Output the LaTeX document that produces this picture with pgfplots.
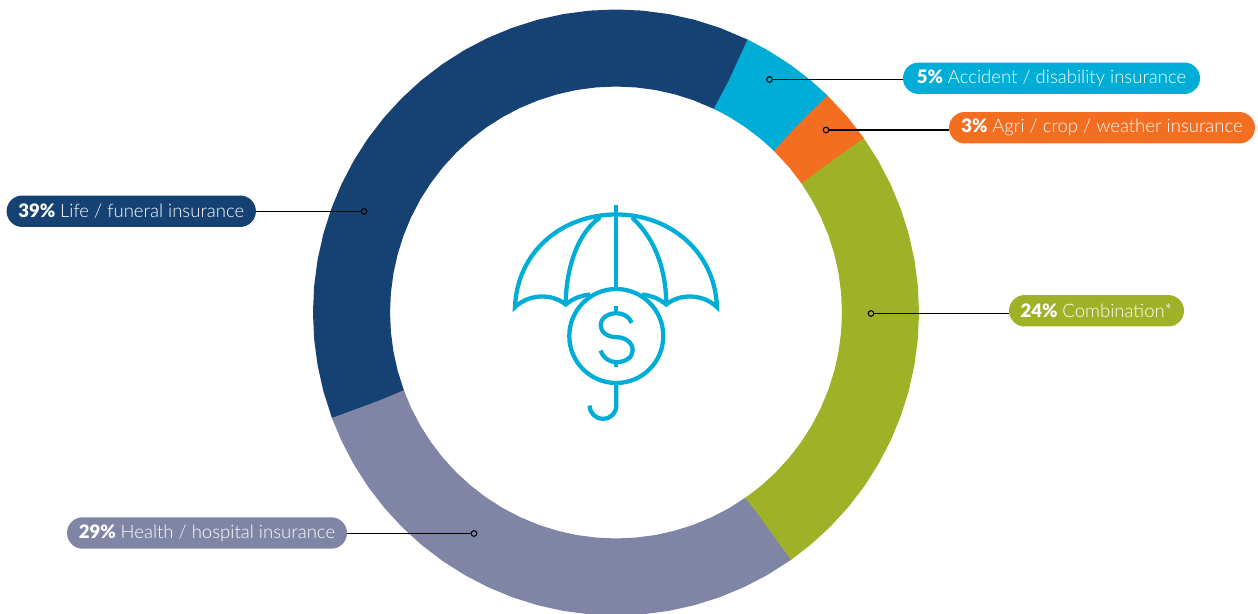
\documentclass[border=0pt]{standalone}
\usepackage{pgfplots}
\pgfplotsset{compat=1.18}
\usepackage{fontspec}
\setmainfont{Lato}
\newfontfamily\lightf{Lato Light}
\newfontfamily\blackf{Lato Black}
\definecolor{cLife}{HTML}{154273}
\definecolor{cAcc}{HTML}{00ADD6}
\definecolor{cAgri}{HTML}{F46E22}
\definecolor{cComb}{HTML}{9FB227}
\definecolor{cHealth}{HTML}{8085A6}
\newcommand{\pill}[6]{\node[fill=#3,text=white,rounded corners=11.8pt,inner sep=0pt,minimum width=#4,minimum height=23.6pt,font=\fontsize{13.9}{16}\selectfont] at (#1,#2) {{\blackf #5} {\lightf #6}};}
\begin{document}
\begin{tikzpicture}
\begin{axis}[
  scale only axis, width=943.5pt, height=460.5pt,
  xmin=-616, xmax=642, ymin=-301.5, ymax=312.5,
  hide axis,
  ring/.style={no markers, line width=57.75pt, line cap=butt, line join=round, data cs=polar},
  lead/.style={black, line width=0.9pt, mark=none},
  dot/.style={only marks, mark=*, mark size=2.1pt, mark options={draw=black, line width=0.8pt, fill=#1}},
]
% ring: (angle, mid radius); spans 39 / 29 / 24 / 3 / 5 per cent as drawn
\addplot[ring, draw=cLife] coordinates {(64,264.5)(64.1,264.5)(70,264.5)(75,264.5)(80,264.5)(85,264.5)(90,264.5)(95,264.5)(100,264.5)(105,264.5)(110,264.5)(115,264.5)(120,264.5)(125,264.5)(130,264.5)(135,264.5)(140,264.5)(145,264.5)(150,264.5)(155,264.5)(160,264.5)(165,264.5)(170,264.5)(175,264.5)(180,264.5)(185,264.5)(190,264.5)(195,264.5)(200.4,264.5)(200.5,264.5)};
\addplot[ring, draw=cHealth] coordinates {(200.4,264.5)(200.5,264.5)(205,264.5)(210,264.5)(215,264.5)(220,264.5)(225,264.5)(230,264.5)(235,264.5)(240,264.5)(245,264.5)(250,264.5)(255,264.5)(260,264.5)(265,264.5)(270,264.5)(275,264.5)(280,264.5)(285,264.5)(290,264.5)(295,264.5)(300,264.5)(305.2,264.5)(305.3,264.5)};
\addplot[ring, draw=cComb] coordinates {(-54.8,264.5)(-54.7,264.5)(-50,264.5)(-45,264.5)(-40,264.5)(-35,264.5)(-30,264.5)(-25,264.5)(-20,264.5)(-15,264.5)(-10,264.5)(-5,264.5)(0,264.5)(5,264.5)(10,264.5)(15,264.5)(20,264.5)(25,264.5)(30,264.5)(35.1,264.5)(35.2,264.5)};
\addplot[ring, draw=cAgri] coordinates {(35.1,264.5)(35.2,264.5)(40,264.5)(45.9,264.5)(46,264.5)};
\addplot[ring, draw=cAcc] coordinates {(45.9,264.5)(46,264.5)(50,264.5)(55,264.5)(60,264.5)(64,264.5)(64.1,264.5)};
% leaders
\addplot[lead] coordinates {(153.5,233)(287,233)};
\addplot[lead] coordinates {(210,182.5)(333,182.5)};
\addplot[lead] coordinates {(-252,101)(-360,101)};
\addplot[lead] coordinates {(-142,-221)(-269,-221)};
\addplot[lead] coordinates {(255,-1)(393,-1)};
\addplot[dot=cAcc] coordinates {(153.5,233)};
\addplot[dot=cAgri] coordinates {(210,182.5)};
\addplot[dot=cLife] coordinates {(-252,101)};
\addplot[dot=cHealth] coordinates {(-142,-221)};
\addplot[dot=cComb] coordinates {(255,-1)};
% pills
\pill{435.5}{234.25}{cAcc}{222.75pt}{5\%}{Accident / disability insurance}
\pill{486}{184.75}{cAgri}{229.5pt}{3\%}{Agri / crop / weather insurance}
\pill{-484.75}{101.25}{cLife}{187pt}{39\%}{Life / funeral insurance}
\pill{-409}{-220.5}{cHealth}{210pt}{29\%}{Health / hospital insurance}
\pill{480.5}{1.75}{cComb}{131.25pt}{24\%}{Combination*}
% umbrella icon
\begin{scope}[draw=cAcc, line width=3.2pt, line cap=butt, line join=miter, miter limit=6]
\draw (0.3,107) -- (0.3,24);
\draw (-26,18) .. controls (-35,17) and (-43,14) .. (-50.3,8) .. controls (-65,20) and (-88,18) .. (-101,5.3) .. controls (-99,60) and (-55,98) .. (0.3,98) .. controls (55,98) and (99,60) .. (101,5.3) .. controls (88,18) and (65,20) .. (50.3,8) .. controls (43,14) and (35,17) .. (26,18);
\draw (-50.3,8) .. controls (-50,45) and (-38,80) .. (-16,95);
\draw (50.3,8) .. controls (50,45) and (38,75) .. (16,95);
\draw (0.3,-23.5) circle[radius=35.25pt];
\draw (0.3,-71) -- (0.3,-93) .. controls (0.3,-100.5) and (-5.5,-106.3) .. (-13,-106.3) .. controls (-20.5,-106.3) and (-26.3,-100.5) .. (-26.3,-93);
\draw (15.7,-10.3) .. controls (13.5,-4.5) and (7.5,-0.7) .. (0.7,-0.7) .. controls (-8,-0.7) and (-15.3,-5.5) .. (-15.3,-13) .. controls (-15.3,-20) and (-8,-24.7) .. (0.7,-24.7) .. controls (9,-24.7) and (16.7,-30) .. (16.7,-38) .. controls (16.7,-45) and (9,-49.7) .. (0.7,-49.7) .. controls (-6.5,-49.7) and (-13,-45.5) .. (-15.3,-38);
\draw (0.3,6) -- (0.3,-1);
\draw (0.3,-49) -- (0.3,-55);
\end{scope}
\path (rel axis cs:0,0) rectangle (rel axis cs:1,1);
\end{axis}
\end{tikzpicture}
\end{document}
